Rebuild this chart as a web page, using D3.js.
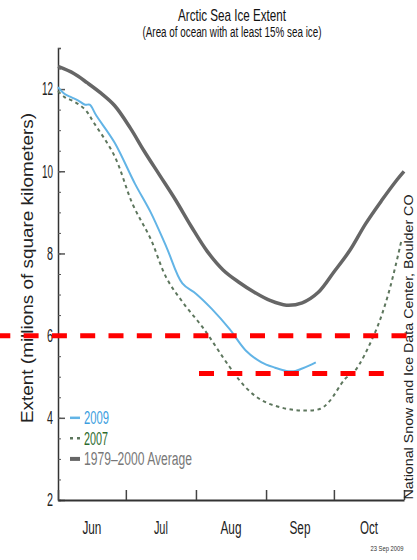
<!DOCTYPE html>
<html>

<head>
    <title>
        Arctic Sea Ice Extent
    </title>
    <script src="https://cdn.jsdelivr.net/npm/d3@7"></script>
    <style>
        body { margin: 0; background: #fff; }
        text { font-family: "Liberation Sans Narrow", "Arial Narrow", "Liberation Sans", Arial, sans-serif; }
    </style>
</head>

<body>
    <svg></svg>
    <script>
        const width = 417;
        const height = 560;

        // 2009 daily extent (millions of km2)
        const dates2009 = ["06-01", "06-04", "06-07", "06-10", "06-13", "06-15", "06-18", "06-26", "07-05", "07-12", "07-19", "07-26", "08-01", "08-08", "08-16", "08-23", "08-30", "09-05", "09-10", "09-14", "09-17", "09-20", "09-23"];
        const values2009 = [12.05, 11.88, 11.8, 11.72, 11.62, 11.62, 11.35, 10.7, 9.7, 9.0, 8.15, 7.27, 7.02, 6.65, 6.15, 5.64, 5.35, 5.22, 5.14, 5.14, 5.2, 5.27, 5.35];

        const dates2007 = ["06-01", "06-04", "06-08", "06-13", "06-17", "06-26", "07-04", "07-12", "07-19", "07-27", "08-04", "08-16", "08-23", "08-30", "09-07", "09-16", "09-25", "09-29", "10-06", "10-10", "10-19", "10-25", "10-31"];
        const values2007 = [11.95, 11.8, 11.7, 11.5, 11.17, 10.37, 9.2, 8.35, 7.4, 6.75, 6.2, 5.23, 4.74, 4.43, 4.26, 4.18, 4.22, 4.4, 4.95, 5.12, 6.05, 7.0, 8.35];

        const datesAvg = ["06-01", "06-08", "06-14", "06-20", "06-26", "07-03", "07-09", "07-16", "07-23", "07-30", "08-06", "08-13", "08-20", "08-27", "09-03", "09-10", "09-17", "09-24", "10-01", "10-08", "10-15", "10-22", "10-29", "11-01"];
        const valuesAvg = [12.55, 12.38, 12.15, 11.9, 11.6, 11.05, 10.5, 9.9, 9.3, 8.65, 8.05, 7.6, 7.3, 7.05, 6.85, 6.74, 6.8, 7.05, 7.55, 8.07, 8.72, 9.28, 9.8, 10.0];

        const monthStarts = ["06-01", "07-01", "08-01", "09-01", "10-01", "11-01"];
        const monthLabels = ["Jun", "Jul", "Aug", "Sep", "Oct"];
        const yTicks = [2, 4, 6, 8, 10, 12];
        const markLines = [6.0, 5.08];

        const parse = d3.timeParse("%m-%d");

        let svg = d3.select("svg")
            .attr("width", width)
            .attr("height", height);

        let xScale = d3.scaleTime()
            .domain([parse("06-01"), parse("11-01")])
            .range([58, 404]);

        let yScale = d3.scaleLinear()
            .domain([2, 13])
            .range([500, 48]);

        // title
        svg.append("text")
            .attr("x", 232).attr("y", 21)
            .attr("text-anchor", "middle")
            .attr("font-size", 17)
            .attr("textLength", 108).attr("lengthAdjust", "spacingAndGlyphs")
            .attr("fill", "#111")
            .text("Arctic Sea Ice Extent");
        svg.append("text")
            .attr("x", 232).attr("y", 37)
            .attr("text-anchor", "middle")
            .attr("font-size", 14)
            .attr("textLength", 179).attr("lengthAdjust", "spacingAndGlyphs")
            .attr("fill", "#111")
            .text("(Area of ocean with at least 15% sea ice)");

        // y axis: minor ticks, then major ticks with labels
        let yMinor = d3.axisLeft(yScale)
            .tickValues(d3.range(2, 13.01, 0.5))
            .tickSize(-3)
            .tickFormat("");
        svg.append("g")
            .attr("transform", "translate(58,0)")
            .call(yMinor)
            .call(g => g.select(".domain").attr("stroke", "#333").attr("stroke-width", 1.5))
            .call(g => g.selectAll(".tick line").attr("stroke", "#555"));

        let yAxis = d3.axisLeft(yScale)
            .tickValues(yTicks)
            .tickSize(-7)
            .tickPadding(6)
            .tickFormat(d3.format("d"));
        svg.append("g")
            .attr("transform", "translate(58,0)")
            .call(yAxis)
            .call(g => g.select(".domain").remove())
            .call(g => g.selectAll(".tick line").attr("stroke", "#555").attr("stroke-width", 1.5))
            .call(g => g.selectAll(".tick text")
                .attr("x", -5)
                .attr("font-size", 18)
                .attr("fill", "#222")
                .attr("textLength", d => d >= 10 ? 11 : 6)
                .attr("lengthAdjust", "spacingAndGlyphs"));

        // x axis: month boundaries, labels mid-month
        let xAxis = d3.axisBottom(xScale)
            .tickValues(monthStarts.map(parse))
            .tickSize(-10)
            .tickSizeOuter(0)
            .tickFormat("");
        svg.append("g")
            .attr("transform", "translate(0,500)")
            .call(xAxis)
            .call(g => g.select(".domain").attr("stroke", "#333").attr("stroke-width", 2))
            .call(g => g.selectAll(".tick line").attr("stroke", "#444").attr("stroke-width", 1.5));

        let monthWidths = [19, 14, 21, 21, 18];
        svg.selectAll(".month")
            .data(monthLabels)
            .enter()
            .append("text")
            .attr("class", "month")
            .attr("x", (d, i) => {
                let a = xScale(parse(monthStarts[i]));
                let b = xScale(parse(monthStarts[i + 1]));
                return (a + b) / 2;
            })
            .attr("y", 534)
            .attr("text-anchor", "middle")
            .attr("font-size", 18)
            .attr("fill", "#222")
            .attr("textLength", (d, i) => monthWidths[i])
            .attr("lengthAdjust", "spacingAndGlyphs")
            .text(d => d);

        // axis title and credits
        svg.append("text")
            .attr("transform", "translate(33,268) rotate(-90)")
            .attr("text-anchor", "middle")
            .attr("font-size", 16)
            .attr("textLength", 310).attr("lengthAdjust", "spacingAndGlyphs")
            .attr("fill", "#222")
            .text("Extent (millions of square kilometers)");

        svg.append("text")
            .attr("transform", "translate(413,347) rotate(-90)")
            .attr("text-anchor", "middle")
            .attr("font-size", 13)
            .attr("textLength", 305).attr("lengthAdjust", "spacingAndGlyphs")
            .attr("fill", "#222")
            .text("National Snow and Ice Data Center, Boulder CO");

        svg.append("text")
            .attr("x", 387).attr("y", 551)
            .attr("text-anchor", "middle")
            .attr("font-size", 8)
            .attr("textLength", 33).attr("lengthAdjust", "spacingAndGlyphs")
            .attr("fill", "#333")
            .text("23 Sep 2009");

        // series
        let line = d3.line()
            .x(d => xScale(d[0]))
            .y(d => yScale(d[1]))
            .curve(d3.curveCatmullRom.alpha(0.5));

        let series = [
            { name: "1979\u20132000 Average", dates: datesAvg, values: valuesAvg, color: "#666", width: 3.5, dash: null, text: "#777", tw: 108 },
            { name: "2007", dates: dates2007, values: values2007, color: "#5d765d", width: 2, dash: "3.5,3.5", text: "#2d6b2d", tw: 24 },
            { name: "2009", dates: dates2009, values: values2009, color: "#62b4e6", width: 2, dash: null, text: "#3b9ee0", tw: 25 }
        ];

        svg.selectAll(".series")
            .data(series)
            .enter()
            .append("path")
            .attr("class", "series")
            .attr("d", d => line(d.dates.map((t, i) => [parse(t), d.values[i]])))
            .attr("fill", "none")
            .attr("stroke", d => d.color)
            .attr("stroke-width", d => d.width)
            .attr("stroke-dasharray", d => d.dash);

        // red marker lines
        svg.append("line")
            .attr("x1", -4.7).attr("x2", width)
            .attr("y1", yScale(markLines[0])).attr("y2", yScale(markLines[0]))
            .attr("stroke", "#f00").attr("stroke-width", 5)
            .attr("stroke-dasharray", "15,13.3");
        svg.append("line")
            .attr("x1", 199).attr("x2", 397)
            .attr("y1", yScale(markLines[1])).attr("y2", yScale(markLines[1]))
            .attr("stroke", "#f00").attr("stroke-width", 5)
            .attr("stroke-dasharray", "15,13.3");

        // legend, aligned with the 4 / 3.5 / 3 ticks
        let legendY = [3, 3.5, 4];
        let legend = svg.selectAll(".legend")
            .data(series)
            .enter()
            .append("g")
            .attr("class", "legend")
            .attr("transform", (d, i) => "translate(70," + yScale(legendY[i]) + ")");

        legend.append("line")
            .attr("x1", 0).attr("x2", 10)
            .attr("stroke", d => d.color)
            .attr("stroke-width", d => d.width + 0.5)
            .attr("stroke-dasharray", d => d.dash ? "3,4" : null);

        legend.append("text")
            .attr("x", 14)
            .attr("dy", "0.36em")
            .attr("font-size", 18)
            .attr("fill", d => d.text)
            .attr("textLength", d => d.tw)
            .attr("lengthAdjust", "spacingAndGlyphs")
            .text(d => d.name);
    </script>
</body>

</html>
